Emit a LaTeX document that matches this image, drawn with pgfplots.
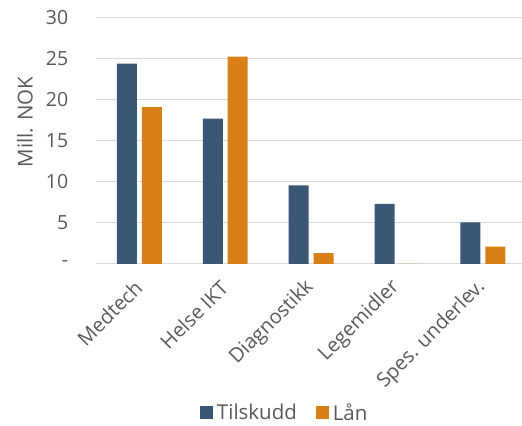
\documentclass[border=0pt]{standalone}
\usepackage{pgfplots}
\pgfplotsset{compat=1.18}
\usepackage{fontspec}
\setmainfont{Open Sans}
\definecolor{cblue}{HTML}{3A5775}
\definecolor{corange}{HTML}{D97F17}
\definecolor{gridg}{HTML}{D9D9D9}
\definecolor{txt}{HTML}{595959}
\begin{document}
\begin{tikzpicture}
\begin{axis}[
  scale only axis,
  width=425.5pt, height=246.3pt,
  xmin=-0.5, xmax=4.45,
  ymin=0, ymax=30,
  clip=false,
  xtick={0,1,2,3,4},
  xticklabels={Medtech,Helse IKT,Diagnostikk,Legemidler,Spes. underlev.},
  ytick={0,5,10,15,20,25,30},
  yticklabels={{-\hspace{10pt}},5,10,15,20,25,30},
  /pgf/number format/assume math mode=true,
  major tick length=0pt,
  axis x line*=bottom,
  axis y line*=left,
  x axis line style={draw=gridg, line width=1pt, -},
  y axis line style={draw=none},
  ymajorgrids,
  major grid style={draw=gridg, line width=1pt},
  tick label style={font=\fontsize{19.5}{22}\selectfont, text=txt},
  yticklabel style={inner sep=0pt, xshift=-28pt},
  xticklabel style={rotate=45, anchor=east, inner sep=2pt, font=\fontsize{20}{22}\selectfont, xshift=-13pt, yshift=-14pt},
  ylabel={Mill. NOK},
  ylabel style={at={(axis description cs:-0.168,0.577)}, anchor=center, font=\fontsize{20.5}{22}\selectfont, text=txt},
  legend style={at={(axis description cs:0.443,-0.605)}, anchor=center, draw=none, fill=none,
    font=\fontsize{20.5}{22}\selectfont, text=txt, legend columns=2,
    /tikz/every odd column/.append style={column sep=2pt},
    /tikz/every even column/.append style={column sep=17pt}},
  legend image code/.code={\fill[#1] (0pt,-6.5pt) rectangle (13pt,6.5pt);},
]
\addplot[ybar, bar width=0.233, bar shift=-0.145, fill=cblue, draw=none]
  coordinates {(0,24.4) (1,17.7) (2,9.55) (3,7.3) (4,5.05)};
\addlegendentry{Tilskudd}
\addplot[ybar, bar width=0.233, bar shift=0.145, fill=corange, draw=none]
  coordinates {(0,19.1) (1,25.25) (2,1.3) (3,0) (4,2.1)};
\addlegendentry{Lån}
\path (rel axis cs:-0.2268,-0.6577) rectangle (rel axis cs:1,1.0719);
\end{axis}
\end{tikzpicture}
\end{document}
